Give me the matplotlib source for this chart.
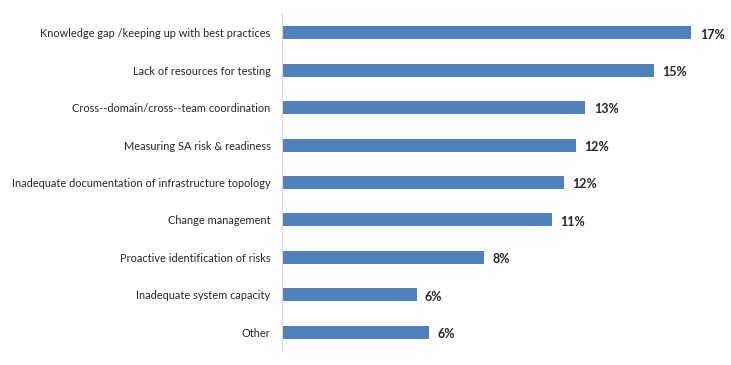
import matplotlib.pyplot as plt
import numpy as np

labels = ['Knowledge gap /keeping up with best practices',
          'Lack of resources for testing',
          'Cross--domain/cross--team coordination',
          'Measuring SA risk & readiness',
          'Inadequate documentation of infrastructure topology',
          'Change management',
          'Proactive identification of risks',
          'Inadequate system capacity',
          'Other']
values = [17.0, 15.45, 12.6, 12.2, 11.7, 11.2, 8.4, 5.6, 6.1]
value_text = ['17%', '15%', '13%', '12%', '12%', '11%', '8%', '6%', '6%']

plt.rcParams['font.family'] = ['Lato', 'DejaVu Sans']

fig = plt.figure(figsize=(7.31, 3.65), dpi=100)
ax = fig.add_axes([281.5/731, 14/365, 434/731, 337/365])

y = np.arange(len(labels))
ax.barh(y, values, height=0.35, color='#4F81BD')
for yi, v, t in zip(y, values, value_text):
    ax.text(v + 0.35, yi + 0.05, t, va='center', ha='left', fontsize=9,
            fontweight='bold', color='#262626')

ax.set_ylim(len(labels) - 0.5, -0.5)
ax.set_xlim(0, 18)
ax.set_yticks(y)
ax.set_yticklabels(labels, fontsize=7.9, color='#262626')
ax.tick_params(axis='y', length=0, pad=8)
ax.set_xticks([])
for s in ['top', 'right', 'bottom']:
    ax.spines[s].set_visible(False)
ax.spines['left'].set_color('#d9d9d9')

fig.savefig('out.png', dpi=100)
